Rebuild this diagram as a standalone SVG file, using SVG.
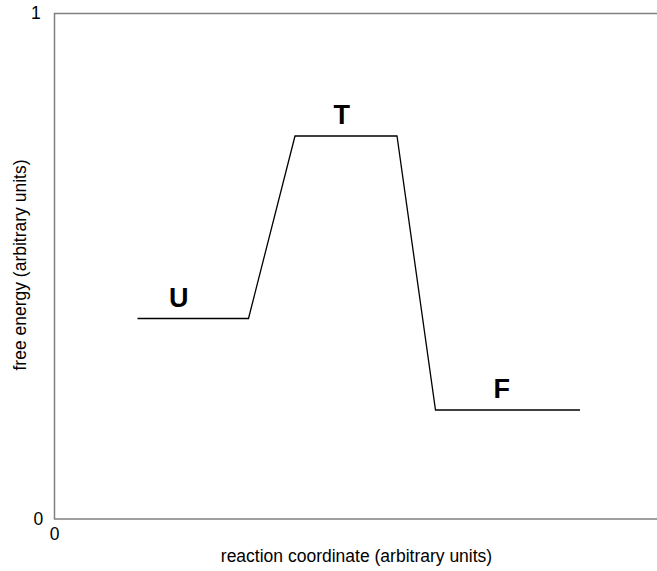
<svg xmlns="http://www.w3.org/2000/svg" width="657" height="571" viewBox="0 0 657 571">
<style>
.ax{stroke:#808080;stroke-width:1.5;fill:none}
.pf{stroke:#000;stroke-width:1.3;fill:none}
.t{font-family:"Liberation Sans",Arial,sans-serif;font-size:17.5px;fill:#000}
.lb{font-family:"Liberation Sans",Arial,sans-serif;font-size:27px;font-weight:bold;fill:#000}
</style>
<rect width="657" height="571" fill="#fff"/>
<g id="axes">
<path class="ax" d="M657,13.5 H54.5 V519 H657"/>
<text class="t" x="31" y="18.5">1</text>
<text class="t" x="38.3" y="525" text-anchor="middle">0</text>
<text class="t" x="54.5" y="540" text-anchor="middle">0</text>
<text class="t" x="356.5" y="562" text-anchor="middle">reaction coordinate (arbitrary units)</text>
<text class="t" x="0" y="0" text-anchor="middle" transform="translate(26,265) rotate(-90)">free energy (arbitrary units)</text>
</g>
<g id="connectors">
<path class="pf" d="M137.5,318.5 H248.5 L295,136 H397 L435.5,410 H580"/>
</g>
<g id="U"><text class="lb" x="178.7" y="306.7" text-anchor="middle">U</text></g>
<g id="T"><text class="lb" x="341.7" y="124.3" text-anchor="middle">T</text></g>
<g id="F"><text class="lb" x="501.8" y="398.3" text-anchor="middle">F</text></g>
</svg>
